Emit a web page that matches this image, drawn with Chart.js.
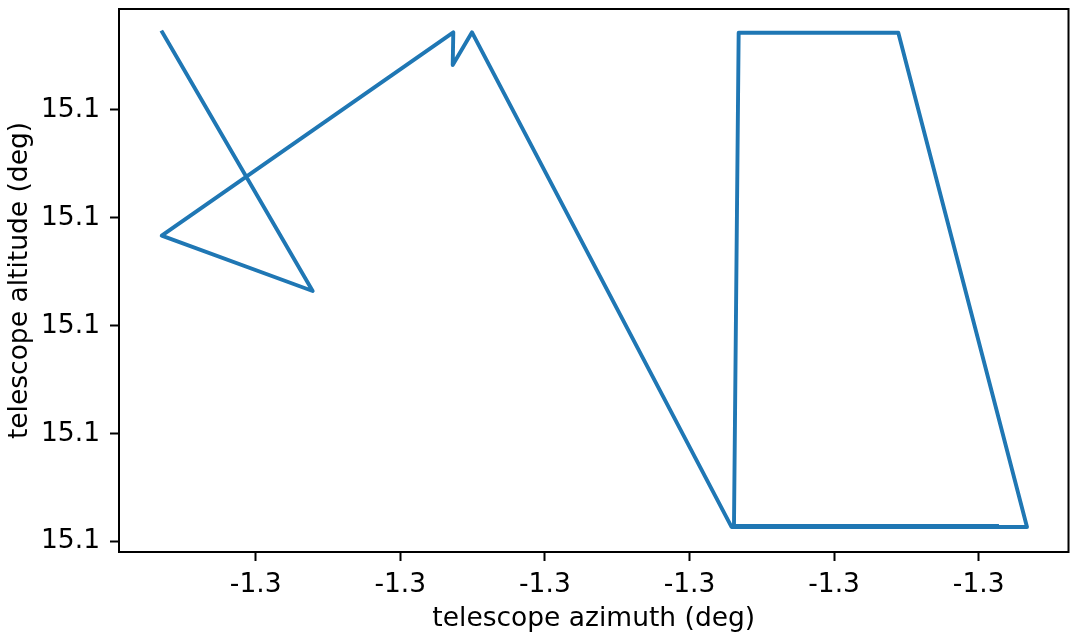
<!DOCTYPE html>
<html>
<head>
<meta charset="utf-8">
<script src="https://cdn.jsdelivr.net/npm/chart.js@4.4.1/dist/chart.umd.min.js"></script>
<style>
  html, body { margin: 0; padding: 0; background: #fff; }
  #wrap { width: 1072px; height: 635px; }
</style>
</head>
<body>
<div id="wrap"><canvas id="pointing" width="1072" height="635"></canvas></div>
<script>
// telescope track, in the order it was sampled
var azimuth = [-1.3011292, -1.3009212, -1.3011300, -1.3007267, -1.3007275, -1.3007008,
               -1.3003419, -1.2999332, -1.3001112, -1.3003320, -1.3003385, -1.2999747];
var altitude = [15.1009440, 15.1004645, 15.1005670, 15.1009440, 15.1008834, 15.1009440,
                15.1000271, 15.1000271, 15.1009433, 15.1009433, 15.1000289, 15.1000289];

// tick positions (matplotlib rounds them all to one decimal)
var azTicks = [-1.3010, -1.3008, -1.3006, -1.3004, -1.3002, -1.3000];
var altTicks = [15.1000, 15.1002, 15.1004, 15.1006, 15.1008];

var puntos = azimuth.map(function (az, i) {
    return { x: az, y: altitude[i] };
});

var fuente = { family: "'DejaVu Sans', sans-serif", size: 26.5 };

// box around the plot area, like the matplotlib spines
var marco = {
    id: 'marco',
    afterDraw: function (chart) {
        var a = chart.chartArea, ctx = chart.ctx;
        ctx.save();
        ctx.strokeStyle = '#000';
        ctx.lineWidth = 2;
        ctx.strokeRect(a.left, a.top, a.right - a.left, a.bottom - a.top);
        ctx.restore();
    }
};

var grafica = new Chart(document.getElementById('pointing'), {
    type: 'scatter',
    data: {
        datasets: [{
            label: 'track',
            data: puntos,
            showLine: true,
            borderColor: '#1f77b4',
            borderWidth: 3.9,
            pointRadius: 0,
            tension: 0,
            borderJoinStyle: 'round',
            borderCapStyle: 'square'
        }]
    },
    options: {
        responsive: false,
        animation: false,
        devicePixelRatio: 1,
        layout: { padding: { top: 9, right: 3.5, left: 0, bottom: 0 } },
        plugins: { legend: { display: false }, tooltip: { enabled: false } },
        scales: {
            x: {
                type: 'linear',
                min: -1.30118907,
                max: -1.2998758,
                afterBuildTicks: function (s) { s.ticks = azTicks.map(function (v) { return { value: v }; }); },
                afterFit: function (s) { s.height = 83; s.paddingLeft = 0; s.paddingRight = 0; },
                border: { display: false },
                grid: { drawOnChartArea: false, drawTicks: true, tickLength: 9, tickColor: '#000', tickWidth: 2 },
                ticks: {
                    color: '#000', font: fuente, padding: 8, maxRotation: 0,
                    callback: function (v) { return v.toFixed(1); }
                },
                title: { display: true, text: 'telescope azimuth (deg)', color: '#000', font: fuente, padding: { top: 0, bottom: 0 } }
            },
            y: {
                type: 'linear',
                min: 15.0999807,
                max: 15.1009872,
                afterBuildTicks: function (s) { s.ticks = altTicks.map(function (v) { return { value: v }; }); },
                afterFit: function (s) { s.width = 119; s.paddingTop = 0; s.paddingBottom = 0; },
                border: { display: false },
                grid: { drawOnChartArea: false, drawTicks: true, tickLength: 9, tickColor: '#000', tickWidth: 2 },
                ticks: {
                    color: '#000', font: fuente, padding: 10,
                    callback: function (v) { return v.toFixed(1); }
                },
                title: { display: true, text: 'telescope altitude (deg)', color: '#000', font: fuente, padding: { top: 4, bottom: 0 } }
            }
        }
    },
    plugins: [marco]
});
</script>
</body>
</html>
